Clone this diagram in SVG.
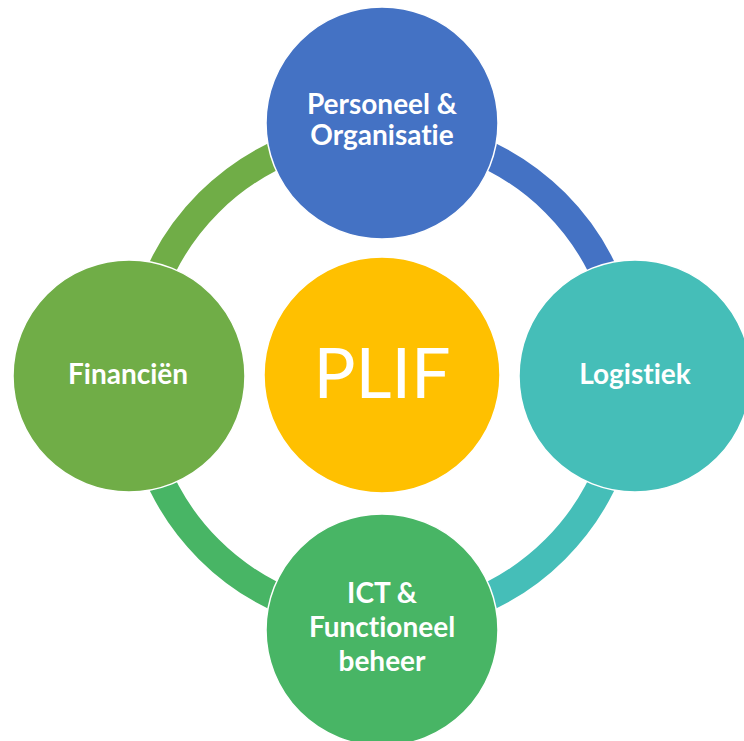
<svg xmlns="http://www.w3.org/2000/svg" width="744" height="741" viewBox="0 0 744 741">
<style>
.arc{fill:none;stroke-width:28}
.node{stroke:#fff;stroke-width:1.5}
.lbl{font-family:Lato,"Liberation Sans",sans-serif;font-weight:bold;font-size:28px;fill:#fff;text-anchor:middle;font-variant-ligatures:none}
.big{font-family:Lato,"Liberation Sans",sans-serif;font-size:70px;fill:#fff;text-anchor:middle}
</style>
<rect width="744" height="741" fill="#fff"/>
<g id="connectors">
<path class="arc" stroke="#4472C4" d="M382,131 A245,245 0 0 1 627,376"/>
<path class="arc" stroke="#45BEB8" d="M627,376 A245,245 0 0 1 382,621"/>
<path class="arc" stroke="#48B565" d="M382,621 A245,245 0 0 1 137,376"/>
<path class="arc" stroke="#70AD47" d="M137,376 A245,245 0 0 1 382,131"/>
</g>
<g id="plif">
<circle class="node" cx="382" cy="375" r="118" fill="#FFC000"/>
<text class="big" x="382" y="398">PLIF</text>
</g>
<g id="personeel">
<circle class="node" cx="382" cy="123" r="116" fill="#4472C4"/>
<text class="lbl" x="382" y="114">Personeel &amp;</text>
<text class="lbl" x="382" y="145">Organisatie</text>
</g>
<g id="logistiek">
<circle class="node" cx="635" cy="376" r="116" fill="#45BEB8"/>
<text class="lbl" x="635" y="384">Logistiek</text>
</g>
<g id="ict">
<circle class="node" cx="382" cy="630" r="116" fill="#48B565"/>
<text class="lbl" x="382" y="603">ICT &amp;</text>
<text class="lbl" x="382" y="637">Functioneel</text>
<text class="lbl" x="382" y="671">beheer</text>
</g>
<g id="financien">
<circle class="node" cx="129" cy="376" r="116" fill="#70AD47"/>
<text class="lbl" x="128" y="384">Financiën</text>
</g>
</svg>
